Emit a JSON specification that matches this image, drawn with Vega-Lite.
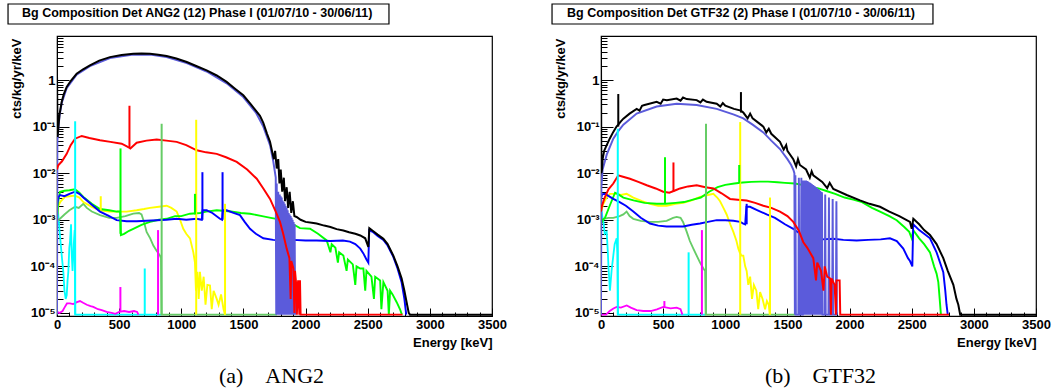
{
  "$schema": "https://vega.github.io/schema/vega-lite/v6.json",
  "background": "white",
  "padding": {"left": 6, "top": 2, "right": 1, "bottom": 2},
  "autosize": {"type": "pad"},
  "config": {
    "view": {"stroke": "black", "strokeWidth": 1.2},
    "axis": {"labelFont": "Liberation Sans", "labelFontWeight": "bold", "labelFontSize": 13, "labelColor": "black", "titleFont": "Liberation Sans", "titleFontWeight": "bold", "titleFontSize": 13, "titleColor": "black", "domainColor": "black", "tickColor": "black", "grid": false}
  },
  "datasets": {
    "curves": [
      {"p":"a","s":"1cy","e":0,"v":0.003},{"p":"a","s":"1cy","e":5,"v":0.002},{"p":"a","s":"1cy","e":10,"v":0.0013},{"p":"a","s":"1cy","e":20,"v":0.0006},{"p":"a","s":"1cy","e":30,"v":0.0003},{"p":"a","s":"1cy","e":40,"v":0.00015},{"p":"a","s":"1cy","e":51,"v":0.000076},{"p":"a","s":"1cy","e":60,"v":0.00003},{"p":"a","s":"1cy","e":70,"v":0.00002},{"p":"a","s":"1cy","e":78,"v":0.000024},{"p":"a","s":"1cy","e":85,"v":0.00005},{"p":"a","s":"1cy","e":91,"v":0.000076},{"p":"a","s":"1cy","e":99,"v":0.00025},{"p":"a","s":"1cy","e":105,"v":0.00035},{"p":"a","s":"1cy","e":113,"v":0.0008},{"p":"a","s":"1cy","e":118,"v":0.0002},{"p":"a","s":"1cy","e":125,"v":0.00008},{"p":"a","s":"1cy","e":135,"v":0.0003},{"p":"a","s":"1cy","e":142,"v":0.0006},{"p":"a","s":"1cy","e":147,"v":0.0000092},{"p":"a","s":"1cy","e":840,"v":0.0000092},
      {"p":"a","s":"2ma","e":0,"v":0.0000105},{"p":"a","s":"2ma","e":20,"v":0.00001},{"p":"a","s":"2ma","e":45,"v":0.000011},{"p":"a","s":"2ma","e":60,"v":0.000013},{"p":"a","s":"2ma","e":80,"v":0.000016},{"p":"a","s":"2ma","e":105,"v":0.000016},{"p":"a","s":"2ma","e":130,"v":0.0000155},{"p":"a","s":"2ma","e":160,"v":0.000017},{"p":"a","s":"2ma","e":185,"v":0.000018},{"p":"a","s":"2ma","e":210,"v":0.0000165},{"p":"a","s":"2ma","e":240,"v":0.000015},{"p":"a","s":"2ma","e":270,"v":0.000014},{"p":"a","s":"2ma","e":292,"v":0.0000135},{"p":"a","s":"2ma","e":330,"v":0.000012},{"p":"a","s":"2ma","e":360,"v":0.0000115},{"p":"a","s":"2ma","e":400,"v":0.0000105},{"p":"a","s":"2ma","e":440,"v":0.00001},{"p":"a","s":"2ma","e":470,"v":0.0000096},{"p":"a","s":"2ma","e":500,"v":0.0000105},{"p":"a","s":"2ma","e":540,"v":0.000011},{"p":"a","s":"2ma","e":580,"v":0.0000105},{"p":"a","s":"2ma","e":620,"v":0.000011},{"p":"a","s":"2ma","e":645,"v":0.0000105},{"p":"a","s":"2ma","e":655,"v":0.0000092},
      {"p":"a","s":"3lg","e":0,"v":0.0009},{"p":"a","s":"3lg","e":10,"v":0.001},{"p":"a","s":"3lg","e":24,"v":0.00105},{"p":"a","s":"3lg","e":60,"v":0.0013},{"p":"a","s":"3lg","e":100,"v":0.0016},{"p":"a","s":"3lg","e":145,"v":0.0019},{"p":"a","s":"3lg","e":175,"v":0.0018},{"p":"a","s":"3lg","e":212,"v":0.0022},{"p":"a","s":"3lg","e":240,"v":0.0018},{"p":"a","s":"3lg","e":280,"v":0.0015},{"p":"a","s":"3lg","e":346,"v":0.00126},{"p":"a","s":"3lg","e":420,"v":0.0011},{"p":"a","s":"3lg","e":480,"v":0.0011},{"p":"a","s":"3lg","e":550,"v":0.0012},{"p":"a","s":"3lg","e":614,"v":0.00136},{"p":"a","s":"3lg","e":660,"v":0.0014},{"p":"a","s":"3lg","e":680,"v":0.0013},{"p":"a","s":"3lg","e":700,"v":0.0009},{"p":"a","s":"3lg","e":721,"v":0.00055},{"p":"a","s":"3lg","e":750,"v":0.0004},{"p":"a","s":"3lg","e":775,"v":0.00028},{"p":"a","s":"3lg","e":800,"v":0.00022},{"p":"a","s":"3lg","e":829,"v":0.00017},{"p":"a","s":"3lg","e":837,"v":0.00015},{"p":"a","s":"3lg","e":841,"v":0.0000092},{"p":"a","s":"3lg","e":1770,"v":0.0000092},
      {"p":"a","s":"4ye","e":0,"v":0.0012},{"p":"a","s":"4ye","e":10,"v":0.002},{"p":"a","s":"4ye","e":30,"v":0.0025},{"p":"a","s":"4ye","e":64,"v":0.0031},{"p":"a","s":"4ye","e":100,"v":0.0032},{"p":"a","s":"4ye","e":145,"v":0.0033},{"p":"a","s":"4ye","e":180,"v":0.003},{"p":"a","s":"4ye","e":212,"v":0.0024},{"p":"a","s":"4ye","e":280,"v":0.0019},{"p":"a","s":"4ye","e":346,"v":0.0016},{"p":"a","s":"4ye","e":420,"v":0.0015},{"p":"a","s":"4ye","e":480,"v":0.0015},{"p":"a","s":"4ye","e":560,"v":0.0015},{"p":"a","s":"4ye","e":641,"v":0.0016},{"p":"a","s":"4ye","e":700,"v":0.0017},{"p":"a","s":"4ye","e":748,"v":0.0018},{"p":"a","s":"4ye","e":820,"v":0.0019},{"p":"a","s":"4ye","e":882,"v":0.002},{"p":"a","s":"4ye","e":920,"v":0.0018},{"p":"a","s":"4ye","e":963,"v":0.0015},{"p":"a","s":"4ye","e":990,"v":0.001},{"p":"a","s":"4ye","e":1016,"v":0.00064},{"p":"a","s":"4ye","e":1040,"v":0.0005},{"p":"a","s":"4ye","e":1070,"v":0.0004},{"p":"a","s":"4ye","e":1097,"v":0.0002},{"p":"a","s":"4ye","e":1110,"v":0.00012},{"p":"a","s":"4ye","e":1118,"v":0.00003},{"p":"a","s":"4ye","e":1130,"v":0.000076},{"p":"a","s":"4ye","e":1140,"v":0.00002},{"p":"a","s":"4ye","e":1150,"v":0.000076},{"p":"a","s":"4ye","e":1165,"v":0.00003},{"p":"a","s":"4ye","e":1180,"v":0.00006},{"p":"a","s":"4ye","e":1195,"v":0.000015},{"p":"a","s":"4ye","e":1210,"v":0.00004},{"p":"a","s":"4ye","e":1231,"v":0.000039},{"p":"a","s":"4ye","e":1245,"v":0.000012},{"p":"a","s":"4ye","e":1260,"v":0.00003},{"p":"a","s":"4ye","e":1285,"v":0.00002},{"p":"a","s":"4ye","e":1300,"v":0.000015},{"p":"a","s":"4ye","e":1320,"v":0.000025},{"p":"a","s":"4ye","e":1340,"v":0.000012},{"p":"a","s":"4ye","e":1352,"v":0.0000092},
      {"p":"a","s":"5gr","e":0,"v":0.001},{"p":"a","s":"5gr","e":10,"v":0.0025},{"p":"a","s":"5gr","e":24,"v":0.004},{"p":"a","s":"5gr","e":60,"v":0.0042},{"p":"a","s":"5gr","e":100,"v":0.0043},{"p":"a","s":"5gr","e":145,"v":0.0045},{"p":"a","s":"5gr","e":180,"v":0.0038},{"p":"a","s":"5gr","e":212,"v":0.0031},{"p":"a","s":"5gr","e":280,"v":0.0022},{"p":"a","s":"5gr","e":346,"v":0.0017},{"p":"a","s":"5gr","e":420,"v":0.0016},{"p":"a","s":"5gr","e":480,"v":0.0015},{"p":"a","s":"5gr","e":508,"v":0.0015},{"p":"a","s":"5gr","e":514,"v":0.00047},{"p":"a","s":"5gr","e":540,"v":0.0005},{"p":"a","s":"5gr","e":580,"v":0.00058},{"p":"a","s":"5gr","e":614,"v":0.00064},{"p":"a","s":"5gr","e":680,"v":0.00078},{"p":"a","s":"5gr","e":748,"v":0.0009},{"p":"a","s":"5gr","e":820,"v":0.001},{"p":"a","s":"5gr","e":882,"v":0.00105},{"p":"a","s":"5gr","e":950,"v":0.0012},{"p":"a","s":"5gr","e":1000,"v":0.0012},{"p":"a","s":"5gr","e":1070,"v":0.00135},{"p":"a","s":"5gr","e":1150,"v":0.0014},{"p":"a","s":"5gr","e":1200,"v":0.0015},{"p":"a","s":"5gr","e":1285,"v":0.0016},{"p":"a","s":"5gr","e":1400,"v":0.0015},{"p":"a","s":"5gr","e":1480,"v":0.0014},{"p":"a","s":"5gr","e":1553,"v":0.00135},{"p":"a","s":"5gr","e":1650,"v":0.0012},{"p":"a","s":"5gr","e":1720,"v":0.0011},{"p":"a","s":"5gr","e":1821,"v":0.00098},{"p":"a","s":"5gr","e":1900,"v":0.0008},{"p":"a","s":"5gr","e":1955,"v":0.00066},{"p":"a","s":"5gr","e":2036,"v":0.00064},{"p":"a","s":"5gr","e":2100,"v":0.0005},{"p":"a","s":"5gr","e":2170,"v":0.00036},{"p":"a","s":"5gr","e":2200,"v":0.0002},{"p":"a","s":"5gr","e":2210,"v":0.0003},{"p":"a","s":"5gr","e":2240,"v":0.00025},{"p":"a","s":"5gr","e":2260,"v":0.00012},{"p":"a","s":"5gr","e":2270,"v":0.0002},{"p":"a","s":"5gr","e":2304,"v":0.00017},{"p":"a","s":"5gr","e":2330,"v":0.00008},{"p":"a","s":"5gr","e":2340,"v":0.00014},{"p":"a","s":"5gr","e":2380,"v":0.00011},{"p":"a","s":"5gr","e":2400,"v":0.00004},{"p":"a","s":"5gr","e":2410,"v":0.0001},{"p":"a","s":"5gr","e":2440,"v":0.00009},{"p":"a","s":"5gr","e":2465,"v":0.00009},{"p":"a","s":"5gr","e":2480,"v":0.00003},{"p":"a","s":"5gr","e":2490,"v":0.00008},{"p":"a","s":"5gr","e":2530,"v":0.00006},{"p":"a","s":"5gr","e":2550,"v":0.00002},{"p":"a","s":"5gr","e":2560,"v":0.00006},{"p":"a","s":"5gr","e":2600,"v":0.00005},{"p":"a","s":"5gr","e":2610,"v":0.000012},{"p":"a","s":"5gr","e":2626,"v":0.000046},{"p":"a","s":"5gr","e":2660,"v":0.00003},{"p":"a","s":"5gr","e":2670,"v":0.0000092},{"p":"a","s":"5gr","e":2680,"v":0.00003},{"p":"a","s":"5gr","e":2700,"v":0.000025},{"p":"a","s":"5gr","e":2733,"v":0.000017},{"p":"a","s":"5gr","e":2760,"v":0.000012},{"p":"a","s":"5gr","e":2775,"v":0.0000092},
      {"p":"a","s":"6bl","e":0,"v":0.002},{"p":"a","s":"6bl","e":10,"v":0.003},{"p":"a","s":"6bl","e":24,"v":0.0034},{"p":"a","s":"6bl","e":60,"v":0.0032},{"p":"a","s":"6bl","e":100,"v":0.0036},{"p":"a","s":"6bl","e":145,"v":0.004},{"p":"a","s":"6bl","e":180,"v":0.0036},{"p":"a","s":"6bl","e":212,"v":0.003},{"p":"a","s":"6bl","e":280,"v":0.0021},{"p":"a","s":"6bl","e":346,"v":0.0015},{"p":"a","s":"6bl","e":420,"v":0.0012},{"p":"a","s":"6bl","e":480,"v":0.00098},{"p":"a","s":"6bl","e":560,"v":0.00093},{"p":"a","s":"6bl","e":641,"v":0.00093},{"p":"a","s":"6bl","e":720,"v":0.00095},{"p":"a","s":"6bl","e":802,"v":0.00098},{"p":"a","s":"6bl","e":880,"v":0.001},{"p":"a","s":"6bl","e":963,"v":0.00105},{"p":"a","s":"6bl","e":1040,"v":0.001},{"p":"a","s":"6bl","e":1124,"v":0.00105},{"p":"a","s":"6bl","e":1165,"v":0.001},{"p":"a","s":"6bl","e":1172,"v":0.0016},{"p":"a","s":"6bl","e":1204,"v":0.0016},{"p":"a","s":"6bl","e":1250,"v":0.0014},{"p":"a","s":"6bl","e":1311,"v":0.00105},{"p":"a","s":"6bl","e":1328,"v":0.001},{"p":"a","s":"6bl","e":1335,"v":0.0016},{"p":"a","s":"6bl","e":1365,"v":0.0016},{"p":"a","s":"6bl","e":1420,"v":0.0014},{"p":"a","s":"6bl","e":1472,"v":0.00126},{"p":"a","s":"6bl","e":1510,"v":0.0009},{"p":"a","s":"6bl","e":1553,"v":0.00064},{"p":"a","s":"6bl","e":1600,"v":0.0005},{"p":"a","s":"6bl","e":1660,"v":0.0004},{"p":"a","s":"6bl","e":1740,"v":0.00037},{"p":"a","s":"6bl","e":1821,"v":0.00036},{"p":"a","s":"6bl","e":1900,"v":0.00037},{"p":"a","s":"6bl","e":2000,"v":0.00036},{"p":"a","s":"6bl","e":2089,"v":0.00036},{"p":"a","s":"6bl","e":2200,"v":0.00035},{"p":"a","s":"6bl","e":2300,"v":0.00036},{"p":"a","s":"6bl","e":2357,"v":0.00034},{"p":"a","s":"6bl","e":2400,"v":0.0003},{"p":"a","s":"6bl","e":2440,"v":0.00024},{"p":"a","s":"6bl","e":2465,"v":0.00019},{"p":"a","s":"6bl","e":2490,"v":0.00014},{"p":"a","s":"6bl","e":2505,"v":0.00012},{"p":"a","s":"6bl","e":2512,"v":0.0006},{"p":"a","s":"6bl","e":2540,"v":0.00055},{"p":"a","s":"6bl","e":2580,"v":0.00045},{"p":"a","s":"6bl","e":2626,"v":0.00037},{"p":"a","s":"6bl","e":2660,"v":0.00028},{"p":"a","s":"6bl","e":2706,"v":0.00016},{"p":"a","s":"6bl","e":2740,"v":0.00009},{"p":"a","s":"6bl","e":2773,"v":0.000045},{"p":"a","s":"6bl","e":2795,"v":0.00002},{"p":"a","s":"6bl","e":2810,"v":0.0000092},
      {"p":"a","s":"7sl","e":0,"v":0.0000092},{"p":"a","s":"7sl","e":3,"v":0.05},{"p":"a","s":"7sl","e":10,"v":0.085},{"p":"a","s":"7sl","e":20,"v":0.17},{"p":"a","s":"7sl","e":38,"v":0.32},{"p":"a","s":"7sl","e":78,"v":0.67},{"p":"a","s":"7sl","e":158,"v":1.3},{"p":"a","s":"7sl","e":265,"v":1.98},{"p":"a","s":"7sl","e":426,"v":2.95},{"p":"a","s":"7sl","e":614,"v":3.5},{"p":"a","s":"7sl","e":748,"v":3.5},{"p":"a","s":"7sl","e":882,"v":3.1},{"p":"a","s":"7sl","e":1044,"v":2.3},{"p":"a","s":"7sl","e":1204,"v":1.52},{"p":"a","s":"7sl","e":1365,"v":0.85},{"p":"a","s":"7sl","e":1499,"v":0.43},{"p":"a","s":"7sl","e":1600,"v":0.2},{"p":"a","s":"7sl","e":1660,"v":0.1},{"p":"a","s":"7sl","e":1714,"v":0.04},{"p":"a","s":"7sl","e":1740,"v":0.018},{"p":"a","s":"7sl","e":1760,"v":0.008},{"p":"a","s":"7sl","e":1764,"v":0.0000092},{"p":"a","s":"7sl","e":1768,"v":0.006},{"p":"a","s":"7sl","e":1772,"v":0.0000092},{"p":"a","s":"7sl","e":1780,"v":0.004},{"p":"a","s":"7sl","e":1784,"v":0.0000092},{"p":"a","s":"7sl","e":1792,"v":0.0035},{"p":"a","s":"7sl","e":1796,"v":0.0000092},{"p":"a","s":"7sl","e":1800,"v":0.0032},{"p":"a","s":"7sl","e":1804,"v":0.0000092},{"p":"a","s":"7sl","e":1808,"v":0.003},{"p":"a","s":"7sl","e":1812,"v":0.0000092},{"p":"a","s":"7sl","e":1816,"v":0.0026},{"p":"a","s":"7sl","e":1820,"v":0.0000092},{"p":"a","s":"7sl","e":1824,"v":0.0024},{"p":"a","s":"7sl","e":1828,"v":0.0000092},{"p":"a","s":"7sl","e":1832,"v":0.0022},{"p":"a","s":"7sl","e":1836,"v":0.0000092},{"p":"a","s":"7sl","e":1840,"v":0.002},{"p":"a","s":"7sl","e":1844,"v":0.0000092},{"p":"a","s":"7sl","e":1848,"v":0.0018},{"p":"a","s":"7sl","e":1852,"v":0.0000092},{"p":"a","s":"7sl","e":1856,"v":0.0016},{"p":"a","s":"7sl","e":1860,"v":0.0000092},{"p":"a","s":"7sl","e":1864,"v":0.0014},{"p":"a","s":"7sl","e":1868,"v":0.0000092},{"p":"a","s":"7sl","e":1872,"v":0.0013},{"p":"a","s":"7sl","e":1876,"v":0.0000092},{"p":"a","s":"7sl","e":1880,"v":0.0012},{"p":"a","s":"7sl","e":1884,"v":0.0000092},{"p":"a","s":"7sl","e":1888,"v":0.0011},{"p":"a","s":"7sl","e":1892,"v":0.0000092},{"p":"a","s":"7sl","e":1896,"v":0.001},{"p":"a","s":"7sl","e":1900,"v":0.0000092},{"p":"a","s":"7sl","e":1904,"v":0.0009},{"p":"a","s":"7sl","e":1908,"v":0.0000092},{"p":"a","s":"7sl","e":1912,"v":0.0008},{"p":"a","s":"7sl","e":1916,"v":0.0000092},
      {"p":"a","s":"8rd","e":0,"v":0.012},{"p":"a","s":"8rd","e":10,"v":0.0148},{"p":"a","s":"8rd","e":40,"v":0.018},{"p":"a","s":"8rd","e":78,"v":0.026},{"p":"a","s":"8rd","e":110,"v":0.04},{"p":"a","s":"8rd","e":145,"v":0.055},{"p":"a","s":"8rd","e":199,"v":0.063},{"p":"a","s":"8rd","e":260,"v":0.057},{"p":"a","s":"8rd","e":346,"v":0.051},{"p":"a","s":"8rd","e":430,"v":0.047},{"p":"a","s":"8rd","e":520,"v":0.043},{"p":"a","s":"8rd","e":566,"v":0.037},{"p":"a","s":"8rd","e":575,"v":0.036},{"p":"a","s":"8rd","e":590,"v":0.034},{"p":"a","s":"8rd","e":641,"v":0.045},{"p":"a","s":"8rd","e":720,"v":0.05},{"p":"a","s":"8rd","e":802,"v":0.053},{"p":"a","s":"8rd","e":880,"v":0.05},{"p":"a","s":"8rd","e":963,"v":0.047},{"p":"a","s":"8rd","e":1040,"v":0.04},{"p":"a","s":"8rd","e":1124,"v":0.031},{"p":"a","s":"8rd","e":1200,"v":0.028},{"p":"a","s":"8rd","e":1285,"v":0.026},{"p":"a","s":"8rd","e":1360,"v":0.022},{"p":"a","s":"8rd","e":1446,"v":0.0175},{"p":"a","s":"8rd","e":1530,"v":0.012},{"p":"a","s":"8rd","e":1607,"v":0.0076},{"p":"a","s":"8rd","e":1660,"v":0.0047},{"p":"a","s":"8rd","e":1714,"v":0.0028},{"p":"a","s":"8rd","e":1760,"v":0.0015},{"p":"a","s":"8rd","e":1794,"v":0.0009},{"p":"a","s":"8rd","e":1820,"v":0.0005},{"p":"a","s":"8rd","e":1848,"v":0.00024},{"p":"a","s":"8rd","e":1870,"v":0.00015},{"p":"a","s":"8rd","e":1880,"v":0.00002},{"p":"a","s":"8rd","e":1885,"v":0.00013},{"p":"a","s":"8rd","e":1902,"v":0.00009},{"p":"a","s":"8rd","e":1910,"v":0.00001},{"p":"a","s":"8rd","e":1915,"v":0.00008},{"p":"a","s":"8rd","e":1925,"v":0.00004},{"p":"a","s":"8rd","e":1930,"v":0.0000092},{"p":"a","s":"8rd","e":1940,"v":0.00005},{"p":"a","s":"8rd","e":1950,"v":0.0000092},{"p":"a","s":"8rd","e":1955,"v":0.00005},{"p":"a","s":"8rd","e":1960,"v":0.0000092},{"p":"a","s":"8rd","e":2780,"v":0.0000092},
      {"p":"a","s":"9bk","e":0,"v":1.4},{"p":"a","s":"9bk","e":5,"v":0.06},{"p":"a","s":"9bk","e":10,"v":0.09},{"p":"a","s":"9bk","e":20,"v":0.18},{"p":"a","s":"9bk","e":38,"v":0.34},{"p":"a","s":"9bk","e":55,"v":0.5},{"p":"a","s":"9bk","e":78,"v":0.71},{"p":"a","s":"9bk","e":110,"v":0.95},{"p":"a","s":"9bk","e":158,"v":1.36},{"p":"a","s":"9bk","e":210,"v":1.7},{"p":"a","s":"9bk","e":265,"v":2.07},{"p":"a","s":"9bk","e":340,"v":2.6},{"p":"a","s":"9bk","e":426,"v":3.1},{"p":"a","s":"9bk","e":520,"v":3.45},{"p":"a","s":"9bk","e":614,"v":3.67},{"p":"a","s":"9bk","e":680,"v":3.72},{"p":"a","s":"9bk","e":748,"v":3.67},{"p":"a","s":"9bk","e":815,"v":3.5},{"p":"a","s":"9bk","e":882,"v":3.27},{"p":"a","s":"9bk","e":960,"v":2.9},{"p":"a","s":"9bk","e":1044,"v":2.43},{"p":"a","s":"9bk","e":1120,"v":2.0},{"p":"a","s":"9bk","e":1204,"v":1.61},{"p":"a","s":"9bk","e":1285,"v":1.25},{"p":"a","s":"9bk","e":1365,"v":0.91},{"p":"a","s":"9bk","e":1430,"v":0.66},{"p":"a","s":"9bk","e":1499,"v":0.47},{"p":"a","s":"9bk","e":1560,"v":0.3},{"p":"a","s":"9bk","e":1600,"v":0.22},{"p":"a","s":"9bk","e":1633,"v":0.17},{"p":"a","s":"9bk","e":1660,"v":0.12},{"p":"a","s":"9bk","e":1690,"v":0.07},{"p":"a","s":"9bk","e":1714,"v":0.047},{"p":"a","s":"9bk","e":1730,"v":0.03},{"p":"a","s":"9bk","e":1745,"v":0.02},{"p":"a","s":"9bk","e":1755,"v":0.03},{"p":"a","s":"9bk","e":1768,"v":0.0126},{"p":"a","s":"9bk","e":1780,"v":0.02},{"p":"a","s":"9bk","e":1790,"v":0.006},{"p":"a","s":"9bk","e":1800,"v":0.012},{"p":"a","s":"9bk","e":1812,"v":0.004},{"p":"a","s":"9bk","e":1825,"v":0.008},{"p":"a","s":"9bk","e":1835,"v":0.0025},{"p":"a","s":"9bk","e":1848,"v":0.005},{"p":"a","s":"9bk","e":1860,"v":0.0018},{"p":"a","s":"9bk","e":1872,"v":0.004},{"p":"a","s":"9bk","e":1885,"v":0.0014},{"p":"a","s":"9bk","e":1898,"v":0.0025},{"p":"a","s":"9bk","e":1910,"v":0.0012},{"p":"a","s":"9bk","e":1928,"v":0.00115},{"p":"a","s":"9bk","e":1960,"v":0.001},{"p":"a","s":"9bk","e":2000,"v":0.0009},{"p":"a","s":"9bk","e":2050,"v":0.00086},{"p":"a","s":"9bk","e":2089,"v":0.00083},{"p":"a","s":"9bk","e":2150,"v":0.00075},{"p":"a","s":"9bk","e":2200,"v":0.0007},{"p":"a","s":"9bk","e":2250,"v":0.00063},{"p":"a","s":"9bk","e":2304,"v":0.00059},{"p":"a","s":"9bk","e":2350,"v":0.00054},{"p":"a","s":"9bk","e":2400,"v":0.0005},{"p":"a","s":"9bk","e":2440,"v":0.00046},{"p":"a","s":"9bk","e":2480,"v":0.0004},{"p":"a","s":"9bk","e":2505,"v":0.00026},{"p":"a","s":"9bk","e":2513,"v":0.00066},{"p":"a","s":"9bk","e":2540,"v":0.00058},{"p":"a","s":"9bk","e":2580,"v":0.00048},{"p":"a","s":"9bk","e":2626,"v":0.00039},{"p":"a","s":"9bk","e":2660,"v":0.0003},{"p":"a","s":"9bk","e":2706,"v":0.00017},{"p":"a","s":"9bk","e":2740,"v":0.0001},{"p":"a","s":"9bk","e":2773,"v":0.000055},{"p":"a","s":"9bk","e":2795,"v":0.00003},{"p":"a","s":"9bk","e":2813,"v":0.000017},{"p":"a","s":"9bk","e":2830,"v":0.00001},{"p":"a","s":"9bk","e":2840,"v":0.0000092},{"p":"a","s":"9bk","e":3500,"v":0.0000092},

      {"p":"b","s":"1cy","e":0,"v":0.002},{"p":"b","s":"1cy","e":10,"v":0.0012},{"p":"b","s":"1cy","e":20,"v":0.0009},{"p":"b","s":"1cy","e":30,"v":0.0005},{"p":"b","s":"1cy","e":46,"v":0.00055},{"p":"b","s":"1cy","e":55,"v":0.0002},{"p":"b","s":"1cy","e":60,"v":0.0001},{"p":"b","s":"1cy","e":72,"v":0.00003},{"p":"b","s":"1cy","e":85,"v":0.00008},{"p":"b","s":"1cy","e":99,"v":0.00017},{"p":"b","s":"1cy","e":110,"v":0.0003},{"p":"b","s":"1cy","e":126,"v":0.0004},{"p":"b","s":"1cy","e":132,"v":0.0002},{"p":"b","s":"1cy","e":137,"v":0.0000092},{"p":"b","s":"1cy","e":840,"v":0.0000092},
      {"p":"b","s":"2ma","e":0,"v":0.0000092},{"p":"b","s":"2ma","e":40,"v":0.0000092},{"p":"b","s":"2ma","e":70,"v":0.000011},{"p":"b","s":"2ma","e":100,"v":0.0000125},{"p":"b","s":"2ma","e":126,"v":0.0000135},{"p":"b","s":"2ma","e":160,"v":0.000013},{"p":"b","s":"2ma","e":207,"v":0.0000145},{"p":"b","s":"2ma","e":240,"v":0.000013},{"p":"b","s":"2ma","e":287,"v":0.0000115},{"p":"b","s":"2ma","e":340,"v":0.000011},{"p":"b","s":"2ma","e":400,"v":0.000011},{"p":"b","s":"2ma","e":450,"v":0.000012},{"p":"b","s":"2ma","e":501,"v":0.0000135},{"p":"b","s":"2ma","e":560,"v":0.0000125},{"p":"b","s":"2ma","e":609,"v":0.000013},{"p":"b","s":"2ma","e":640,"v":0.000012},{"p":"b","s":"2ma","e":655,"v":0.0000092},
      {"p":"b","s":"3lg","e":0,"v":0.001},{"p":"b","s":"3lg","e":19,"v":0.00105},{"p":"b","s":"3lg","e":60,"v":0.0011},{"p":"b","s":"3lg","e":99,"v":0.0011},{"p":"b","s":"3lg","e":150,"v":0.0012},{"p":"b","s":"3lg","e":180,"v":0.0013},{"p":"b","s":"3lg","e":206,"v":0.0015},{"p":"b","s":"3lg","e":230,"v":0.0012},{"p":"b","s":"3lg","e":260,"v":0.00105},{"p":"b","s":"3lg","e":320,"v":0.00095},{"p":"b","s":"3lg","e":394,"v":0.0009},{"p":"b","s":"3lg","e":460,"v":0.0009},{"p":"b","s":"3lg","e":528,"v":0.00095},{"p":"b","s":"3lg","e":580,"v":0.0011},{"p":"b","s":"3lg","e":609,"v":0.00115},{"p":"b","s":"3lg","e":640,"v":0.0011},{"p":"b","s":"3lg","e":660,"v":0.0009},{"p":"b","s":"3lg","e":690,"v":0.00055},{"p":"b","s":"3lg","e":715,"v":0.00035},{"p":"b","s":"3lg","e":743,"v":0.00024},{"p":"b","s":"3lg","e":770,"v":0.00017},{"p":"b","s":"3lg","e":797,"v":0.00012},{"p":"b","s":"3lg","e":824,"v":0.00009},{"p":"b","s":"3lg","e":838,"v":0.00008},{"p":"b","s":"3lg","e":842,"v":0.0000092},{"p":"b","s":"3lg","e":1560,"v":0.0000092},
      {"p":"b","s":"4ye","e":0,"v":0.0015},{"p":"b","s":"4ye","e":19,"v":0.0022},{"p":"b","s":"4ye","e":45,"v":0.003},{"p":"b","s":"4ye","e":72,"v":0.0036},{"p":"b","s":"4ye","e":126,"v":0.0036},{"p":"b","s":"4ye","e":160,"v":0.0034},{"p":"b","s":"4ye","e":206,"v":0.0036},{"p":"b","s":"4ye","e":260,"v":0.003},{"p":"b","s":"4ye","e":330,"v":0.0025},{"p":"b","s":"4ye","e":394,"v":0.0022},{"p":"b","s":"4ye","e":460,"v":0.002},{"p":"b","s":"4ye","e":528,"v":0.002},{"p":"b","s":"4ye","e":600,"v":0.0022},{"p":"b","s":"4ye","e":662,"v":0.0023},{"p":"b","s":"4ye","e":730,"v":0.0026},{"p":"b","s":"4ye","e":797,"v":0.0031},{"p":"b","s":"4ye","e":860,"v":0.0034},{"p":"b","s":"4ye","e":904,"v":0.0036},{"p":"b","s":"4ye","e":935,"v":0.003},{"p":"b","s":"4ye","e":958,"v":0.0025},{"p":"b","s":"4ye","e":985,"v":0.0018},{"p":"b","s":"4ye","e":1011,"v":0.0013},{"p":"b","s":"4ye","e":1040,"v":0.0008},{"p":"b","s":"4ye","e":1065,"v":0.00055},{"p":"b","s":"4ye","e":1090,"v":0.00035},{"p":"b","s":"4ye","e":1105,"v":0.00024},{"p":"b","s":"4ye","e":1116,"v":0.0002},{"p":"b","s":"4ye","e":1130,"v":0.00017},{"p":"b","s":"4ye","e":1145,"v":0.00017},{"p":"b","s":"4ye","e":1160,"v":0.0001},{"p":"b","s":"4ye","e":1172,"v":0.00008},{"p":"b","s":"4ye","e":1185,"v":0.00004},{"p":"b","s":"4ye","e":1200,"v":0.00006},{"p":"b","s":"4ye","e":1215,"v":0.00002},{"p":"b","s":"4ye","e":1230,"v":0.00004},{"p":"b","s":"4ye","e":1250,"v":0.00003},{"p":"b","s":"4ye","e":1265,"v":0.000012},{"p":"b","s":"4ye","e":1280,"v":0.000028},{"p":"b","s":"4ye","e":1300,"v":0.00002},{"p":"b","s":"4ye","e":1320,"v":0.000012},{"p":"b","s":"4ye","e":1335,"v":0.000018},{"p":"b","s":"4ye","e":1350,"v":0.000015},{"p":"b","s":"4ye","e":1358,"v":0.0000092},
      {"p":"b","s":"5gr","e":0,"v":0.0008},{"p":"b","s":"5gr","e":15,"v":0.001},{"p":"b","s":"5gr","e":32,"v":0.0011},{"p":"b","s":"5gr","e":70,"v":0.002},{"p":"b","s":"5gr","e":113,"v":0.0038},{"p":"b","s":"5gr","e":140,"v":0.0035},{"p":"b","s":"5gr","e":180,"v":0.003},{"p":"b","s":"5gr","e":262,"v":0.0026},{"p":"b","s":"5gr","e":350,"v":0.0023},{"p":"b","s":"5gr","e":450,"v":0.0022},{"p":"b","s":"5gr","e":520,"v":0.0022},{"p":"b","s":"5gr","e":600,"v":0.0023},{"p":"b","s":"5gr","e":668,"v":0.0024},{"p":"b","s":"5gr","e":740,"v":0.0027},{"p":"b","s":"5gr","e":803,"v":0.003},{"p":"b","s":"5gr","e":870,"v":0.004},{"p":"b","s":"5gr","e":938,"v":0.005},{"p":"b","s":"5gr","e":1000,"v":0.0056},{"p":"b","s":"5gr","e":1073,"v":0.006},{"p":"b","s":"5gr","e":1140,"v":0.0063},{"p":"b","s":"5gr","e":1210,"v":0.0065},{"p":"b","s":"5gr","e":1280,"v":0.0066},{"p":"b","s":"5gr","e":1344,"v":0.0066},{"p":"b","s":"5gr","e":1420,"v":0.0064},{"p":"b","s":"5gr","e":1480,"v":0.0062},{"p":"b","s":"5gr","e":1560,"v":0.006},{"p":"b","s":"5gr","e":1650,"v":0.0054},{"p":"b","s":"5gr","e":1749,"v":0.0047},{"p":"b","s":"5gr","e":1820,"v":0.0041},{"p":"b","s":"5gr","e":1884,"v":0.0036},{"p":"b","s":"5gr","e":1960,"v":0.003},{"p":"b","s":"5gr","e":2030,"v":0.0027},{"p":"b","s":"5gr","e":2100,"v":0.0024},{"p":"b","s":"5gr","e":2180,"v":0.0018},{"p":"b","s":"5gr","e":2245,"v":0.0015},{"p":"b","s":"5gr","e":2320,"v":0.0012},{"p":"b","s":"5gr","e":2379,"v":0.00098},{"p":"b","s":"5gr","e":2440,"v":0.0007},{"p":"b","s":"5gr","e":2480,"v":0.00055},{"p":"b","s":"5gr","e":2500,"v":0.0004},{"p":"b","s":"5gr","e":2512,"v":0.0006},{"p":"b","s":"5gr","e":2560,"v":0.0004},{"p":"b","s":"5gr","e":2600,"v":0.0003},{"p":"b","s":"5gr","e":2647,"v":0.0002},{"p":"b","s":"5gr","e":2680,"v":0.0001},{"p":"b","s":"5gr","e":2700,"v":0.00007},{"p":"b","s":"5gr","e":2714,"v":0.000046},{"p":"b","s":"5gr","e":2725,"v":0.00002},{"p":"b","s":"5gr","e":2735,"v":0.0000092},
      {"p":"b","s":"6bl","e":0,"v":0.003},{"p":"b","s":"6bl","e":10,"v":0.0035},{"p":"b","s":"6bl","e":32,"v":0.0036},{"p":"b","s":"6bl","e":99,"v":0.0028},{"p":"b","s":"6bl","e":150,"v":0.0024},{"p":"b","s":"6bl","e":200,"v":0.002},{"p":"b","s":"6bl","e":260,"v":0.0015},{"p":"b","s":"6bl","e":320,"v":0.0011},{"p":"b","s":"6bl","e":394,"v":0.00083},{"p":"b","s":"6bl","e":460,"v":0.00075},{"p":"b","s":"6bl","e":528,"v":0.00072},{"p":"b","s":"6bl","e":600,"v":0.00072},{"p":"b","s":"6bl","e":662,"v":0.00072},{"p":"b","s":"6bl","e":730,"v":0.00078},{"p":"b","s":"6bl","e":797,"v":0.00083},{"p":"b","s":"6bl","e":860,"v":0.0009},{"p":"b","s":"6bl","e":931,"v":0.00098},{"p":"b","s":"6bl","e":1000,"v":0.00098},{"p":"b","s":"6bl","e":1065,"v":0.00095},{"p":"b","s":"6bl","e":1120,"v":0.0009},{"p":"b","s":"6bl","e":1145,"v":0.00083},{"p":"b","s":"6bl","e":1160,"v":0.0008},{"p":"b","s":"6bl","e":1170,"v":0.0019},{"p":"b","s":"6bl","e":1199,"v":0.0019},{"p":"b","s":"6bl","e":1260,"v":0.0016},{"p":"b","s":"6bl","e":1333,"v":0.0013},{"p":"b","s":"6bl","e":1400,"v":0.0011},{"p":"b","s":"6bl","e":1480,"v":0.0008},{"p":"b","s":"6bl","e":1547,"v":0.00064},{"p":"b","s":"6bl","e":1600,"v":0.0005},{"p":"b","s":"6bl","e":1650,"v":0.00042},{"p":"b","s":"6bl","e":1708,"v":0.00036},{"p":"b","s":"6bl","e":1780,"v":0.00038},{"p":"b","s":"6bl","e":1869,"v":0.00039},{"p":"b","s":"6bl","e":1950,"v":0.00037},{"p":"b","s":"6bl","e":2057,"v":0.00036},{"p":"b","s":"6bl","e":2150,"v":0.00037},{"p":"b","s":"6bl","e":2250,"v":0.00038},{"p":"b","s":"6bl","e":2325,"v":0.0004},{"p":"b","s":"6bl","e":2380,"v":0.00035},{"p":"b","s":"6bl","e":2432,"v":0.00024},{"p":"b","s":"6bl","e":2470,"v":0.00015},{"p":"b","s":"6bl","e":2486,"v":0.00013},{"p":"b","s":"6bl","e":2505,"v":0.0001},{"p":"b","s":"6bl","e":2512,"v":0.0008},{"p":"b","s":"6bl","e":2560,"v":0.0006},{"p":"b","s":"6bl","e":2600,"v":0.0005},{"p":"b","s":"6bl","e":2647,"v":0.0004},{"p":"b","s":"6bl","e":2700,"v":0.0002},{"p":"b","s":"6bl","e":2754,"v":0.000075},{"p":"b","s":"6bl","e":2770,"v":0.00003},{"p":"b","s":"6bl","e":2780,"v":0.000015},{"p":"b","s":"6bl","e":2790,"v":0.0000092},
      {"p":"b","s":"7sl","e":0,"v":0.0000092},{"p":"b","s":"7sl","e":3,"v":0.005},{"p":"b","s":"7sl","e":13,"v":0.012},{"p":"b","s":"7sl","e":46,"v":0.025},{"p":"b","s":"7sl","e":99,"v":0.055},{"p":"b","s":"7sl","e":139,"v":0.08},{"p":"b","s":"7sl","e":180,"v":0.11},{"p":"b","s":"7sl","e":287,"v":0.19},{"p":"b","s":"7sl","e":448,"v":0.27},{"p":"b","s":"7sl","e":609,"v":0.31},{"p":"b","s":"7sl","e":770,"v":0.29},{"p":"b","s":"7sl","e":931,"v":0.24},{"p":"b","s":"7sl","e":1070,"v":0.18},{"p":"b","s":"7sl","e":1145,"v":0.15},{"p":"b","s":"7sl","e":1220,"v":0.11},{"p":"b","s":"7sl","e":1306,"v":0.075},{"p":"b","s":"7sl","e":1370,"v":0.05},{"p":"b","s":"7sl","e":1440,"v":0.033},{"p":"b","s":"7sl","e":1500,"v":0.02},{"p":"b","s":"7sl","e":1530,"v":0.015},{"p":"b","s":"7sl","e":1547,"v":0.012},{"p":"b","s":"7sl","e":1556,"v":0.01},{"p":"b","s":"7sl","e":1560,"v":0.0000092},{"p":"b","s":"7sl","e":1564,"v":0.009},{"p":"b","s":"7sl","e":1568,"v":0.0000092},{"p":"b","s":"7sl","e":1588,"v":0.0000092},{"p":"b","s":"7sl","e":1592,"v":0.008},{"p":"b","s":"7sl","e":1596,"v":0.0000092},{"p":"b","s":"7sl","e":1608,"v":0.0000092},{"p":"b","s":"7sl","e":1612,"v":0.008},{"p":"b","s":"7sl","e":1616,"v":0.0000092},{"p":"b","s":"7sl","e":1624,"v":0.0000092},{"p":"b","s":"7sl","e":1628,"v":0.007},{"p":"b","s":"7sl","e":1632,"v":0.0000092},{"p":"b","s":"7sl","e":1640,"v":0.007},{"p":"b","s":"7sl","e":1644,"v":0.0000092},{"p":"b","s":"7sl","e":1650,"v":0.007},{"p":"b","s":"7sl","e":1654,"v":0.0000092},{"p":"b","s":"7sl","e":1658,"v":0.0068},{"p":"b","s":"7sl","e":1662,"v":0.0000092},{"p":"b","s":"7sl","e":1666,"v":0.0066},{"p":"b","s":"7sl","e":1670,"v":0.0000092},{"p":"b","s":"7sl","e":1674,"v":0.0064},{"p":"b","s":"7sl","e":1678,"v":0.0000092},{"p":"b","s":"7sl","e":1682,"v":0.0062},{"p":"b","s":"7sl","e":1686,"v":0.0000092},{"p":"b","s":"7sl","e":1690,"v":0.006},{"p":"b","s":"7sl","e":1694,"v":0.0000092},{"p":"b","s":"7sl","e":1698,"v":0.0058},{"p":"b","s":"7sl","e":1702,"v":0.0000092},{"p":"b","s":"7sl","e":1706,"v":0.0056},{"p":"b","s":"7sl","e":1710,"v":0.0000092},{"p":"b","s":"7sl","e":1714,"v":0.0054},{"p":"b","s":"7sl","e":1718,"v":0.0000092},{"p":"b","s":"7sl","e":1722,"v":0.0052},{"p":"b","s":"7sl","e":1726,"v":0.0000092},{"p":"b","s":"7sl","e":1730,"v":0.005},{"p":"b","s":"7sl","e":1734,"v":0.0000092},{"p":"b","s":"7sl","e":1738,"v":0.0048},{"p":"b","s":"7sl","e":1742,"v":0.0000092},{"p":"b","s":"7sl","e":1746,"v":0.0046},{"p":"b","s":"7sl","e":1750,"v":0.0000092},{"p":"b","s":"7sl","e":1754,"v":0.0044},{"p":"b","s":"7sl","e":1758,"v":0.0000092},{"p":"b","s":"7sl","e":1762,"v":0.0042},{"p":"b","s":"7sl","e":1766,"v":0.0000092},{"p":"b","s":"7sl","e":1770,"v":0.004},{"p":"b","s":"7sl","e":1774,"v":0.0000092},{"p":"b","s":"7sl","e":1778,"v":0.0039},{"p":"b","s":"7sl","e":1782,"v":0.0000092},{"p":"b","s":"7sl","e":1800,"v":0.0000092},{"p":"b","s":"7sl","e":1804,"v":0.0035},{"p":"b","s":"7sl","e":1808,"v":0.0000092},{"p":"b","s":"7sl","e":1830,"v":0.0000092},{"p":"b","s":"7sl","e":1834,"v":0.003},{"p":"b","s":"7sl","e":1838,"v":0.0000092},{"p":"b","s":"7sl","e":1860,"v":0.0000092},{"p":"b","s":"7sl","e":1864,"v":0.0028},{"p":"b","s":"7sl","e":1868,"v":0.0000092},{"p":"b","s":"7sl","e":1890,"v":0.0000092},{"p":"b","s":"7sl","e":1894,"v":0.0025},{"p":"b","s":"7sl","e":1898,"v":0.0000092},
      {"p":"b","s":"8rd","e":0,"v":0.0015},{"p":"b","s":"8rd","e":8,"v":0.002},{"p":"b","s":"8rd","e":30,"v":0.003},{"p":"b","s":"8rd","e":60,"v":0.0045},{"p":"b","s":"8rd","e":99,"v":0.006},{"p":"b","s":"8rd","e":139,"v":0.009},{"p":"b","s":"8rd","e":170,"v":0.0085},{"p":"b","s":"8rd","e":233,"v":0.0076},{"p":"b","s":"8rd","e":300,"v":0.0065},{"p":"b","s":"8rd","e":368,"v":0.0055},{"p":"b","s":"8rd","e":440,"v":0.0047},{"p":"b","s":"8rd","e":501,"v":0.004},{"p":"b","s":"8rd","e":550,"v":0.0038},{"p":"b","s":"8rd","e":600,"v":0.0043},{"p":"b","s":"8rd","e":636,"v":0.0047},{"p":"b","s":"8rd","e":700,"v":0.0052},{"p":"b","s":"8rd","e":770,"v":0.0055},{"p":"b","s":"8rd","e":840,"v":0.005},{"p":"b","s":"8rd","e":905,"v":0.0047},{"p":"b","s":"8rd","e":970,"v":0.0037},{"p":"b","s":"8rd","e":1038,"v":0.0028},{"p":"b","s":"8rd","e":1100,"v":0.0027},{"p":"b","s":"8rd","e":1172,"v":0.0026},{"p":"b","s":"8rd","e":1240,"v":0.0023},{"p":"b","s":"8rd","e":1306,"v":0.002},{"p":"b","s":"8rd","e":1370,"v":0.0018},{"p":"b","s":"8rd","e":1440,"v":0.0015},{"p":"b","s":"8rd","e":1500,"v":0.0012},{"p":"b","s":"8rd","e":1547,"v":0.0009},{"p":"b","s":"8rd","e":1590,"v":0.0006},{"p":"b","s":"8rd","e":1628,"v":0.00033},{"p":"b","s":"8rd","e":1660,"v":0.00025},{"p":"b","s":"8rd","e":1708,"v":0.00015},{"p":"b","s":"8rd","e":1730,"v":0.00005},{"p":"b","s":"8rd","e":1740,"v":0.00012},{"p":"b","s":"8rd","e":1770,"v":0.00008},{"p":"b","s":"8rd","e":1790,"v":0.00003},{"p":"b","s":"8rd","e":1800,"v":0.0001},{"p":"b","s":"8rd","e":1820,"v":0.00006},{"p":"b","s":"8rd","e":1844,"v":0.000055},{"p":"b","s":"8rd","e":1850,"v":0.0000092},{"p":"b","s":"8rd","e":1855,"v":0.000055},{"p":"b","s":"8rd","e":1880,"v":0.00004},{"p":"b","s":"8rd","e":1890,"v":0.0000092},{"p":"b","s":"8rd","e":1895,"v":0.00005},{"p":"b","s":"8rd","e":1920,"v":0.00005},{"p":"b","s":"8rd","e":1925,"v":0.0000092},{"p":"b","s":"8rd","e":2800,"v":0.0000092},
      {"p":"b","s":"9bk","e":0,"v":3},{"p":"b","s":"9bk","e":3,"v":0.01},{"p":"b","s":"9bk","e":8,"v":0.012},{"p":"b","s":"9bk","e":13,"v":0.02},{"p":"b","s":"9bk","e":25,"v":0.03},{"p":"b","s":"9bk","e":46,"v":0.04},{"p":"b","s":"9bk","e":70,"v":0.055},{"p":"b","s":"9bk","e":99,"v":0.077},{"p":"b","s":"9bk","e":125,"v":0.1},{"p":"b","s":"9bk","e":139,"v":0.11},{"p":"b","s":"9bk","e":160,"v":0.13},{"p":"b","s":"9bk","e":180,"v":0.148},{"p":"b","s":"9bk","e":230,"v":0.19},{"p":"b","s":"9bk","e":287,"v":0.24},{"p":"b","s":"9bk","e":310,"v":0.22},{"p":"b","s":"9bk","e":330,"v":0.28},{"p":"b","s":"9bk","e":350,"v":0.29},{"p":"b","s":"9bk","e":448,"v":0.34},{"p":"b","s":"9bk","e":480,"v":0.31},{"p":"b","s":"9bk","e":500,"v":0.38},{"p":"b","s":"9bk","e":530,"v":0.37},{"p":"b","s":"9bk","e":609,"v":0.4},{"p":"b","s":"9bk","e":640,"v":0.36},{"p":"b","s":"9bk","e":660,"v":0.42},{"p":"b","s":"9bk","e":690,"v":0.39},{"p":"b","s":"9bk","e":770,"v":0.37},{"p":"b","s":"9bk","e":800,"v":0.33},{"p":"b","s":"9bk","e":820,"v":0.38},{"p":"b","s":"9bk","e":850,"v":0.34},{"p":"b","s":"9bk","e":931,"v":0.31},{"p":"b","s":"9bk","e":960,"v":0.27},{"p":"b","s":"9bk","e":980,"v":0.32},{"p":"b","s":"9bk","e":1000,"v":0.28},{"p":"b","s":"9bk","e":1070,"v":0.24},{"p":"b","s":"9bk","e":1126,"v":0.22},{"p":"b","s":"9bk","e":1145,"v":0.2},{"p":"b","s":"9bk","e":1180,"v":0.15},{"p":"b","s":"9bk","e":1200,"v":0.19},{"p":"b","s":"9bk","e":1220,"v":0.15},{"p":"b","s":"9bk","e":1306,"v":0.1},{"p":"b","s":"9bk","e":1330,"v":0.075},{"p":"b","s":"9bk","e":1350,"v":0.09},{"p":"b","s":"9bk","e":1370,"v":0.07},{"p":"b","s":"9bk","e":1440,"v":0.047},{"p":"b","s":"9bk","e":1470,"v":0.032},{"p":"b","s":"9bk","e":1490,"v":0.04},{"p":"b","s":"9bk","e":1500,"v":0.03},{"p":"b","s":"9bk","e":1547,"v":0.02},{"p":"b","s":"9bk","e":1570,"v":0.014},{"p":"b","s":"9bk","e":1585,"v":0.02},{"p":"b","s":"9bk","e":1600,"v":0.015},{"p":"b","s":"9bk","e":1650,"v":0.012},{"p":"b","s":"9bk","e":1680,"v":0.008},{"p":"b","s":"9bk","e":1695,"v":0.011},{"p":"b","s":"9bk","e":1708,"v":0.009},{"p":"b","s":"9bk","e":1780,"v":0.0065},{"p":"b","s":"9bk","e":1820,"v":0.0048},{"p":"b","s":"9bk","e":1840,"v":0.0062},{"p":"b","s":"9bk","e":1869,"v":0.0046},{"p":"b","s":"9bk","e":1977,"v":0.0034},{"p":"b","s":"9bk","e":2084,"v":0.0026},{"p":"b","s":"9bk","e":2160,"v":0.0022},{"p":"b","s":"9bk","e":2245,"v":0.0019},{"p":"b","s":"9bk","e":2320,"v":0.0015},{"p":"b","s":"9bk","e":2400,"v":0.0012},{"p":"b","s":"9bk","e":2486,"v":0.0009},{"p":"b","s":"9bk","e":2500,"v":0.00064},{"p":"b","s":"9bk","e":2513,"v":0.00105},{"p":"b","s":"9bk","e":2560,"v":0.0008},{"p":"b","s":"9bk","e":2600,"v":0.0006},{"p":"b","s":"9bk","e":2647,"v":0.00047},{"p":"b","s":"9bk","e":2700,"v":0.0003},{"p":"b","s":"9bk","e":2754,"v":0.00015},{"p":"b","s":"9bk","e":2790,"v":0.00008},{"p":"b","s":"9bk","e":2835,"v":0.00004},{"p":"b","s":"9bk","e":2860,"v":0.00002},{"p":"b","s":"9bk","e":2875,"v":0.000015},{"p":"b","s":"9bk","e":2890,"v":0.0000092},{"p":"b","s":"9bk","e":3500,"v":0.0000092}
    ],
    "spikes": [
      {"p":"a","s":"1cy","e":146,"v":0.13,"v0":0.0000092},
      {"p":"a","s":"1cy","e":706,"v":0.00009,"v0":0.0000092},
      {"p":"a","s":"2ma","e":510,"v":0.000036,"v0":0.0000105},
      {"p":"a","s":"2ma","e":813,"v":0.0006,"v0":0.0000092},
      {"p":"a","s":"3lg","e":842,"v":0.115,"v0":0.0000092},
      {"p":"a","s":"4ye","e":352,"v":0.0032,"v0":0.0016},
      {"p":"a","s":"4ye","e":1120,"v":0.14,"v0":0.0000092},
      {"p":"a","s":"4ye","e":1352,"v":0.0022,"v0":0.0000092},
      {"p":"a","s":"5gr","e":511,"v":0.034,"v0":0.0005},
      {"p":"a","s":"5gr","e":1110,"v":0.0036,"v0":0.0013},
      {"p":"a","s":"6bl","e":1170,"v":0.0105,"v0":0.001},
      {"p":"a","s":"6bl","e":1332,"v":0.0105,"v0":0.001},
      {"p":"a","s":"8rd","e":583,"v":0.28,"v0":0.035},
      {"p":"b","s":"1cy","e":135,"v":0.09,"v0":0.0000092},
      {"p":"b","s":"1cy","e":705,"v":0.0002,"v0":0.0000092},
      {"p":"b","s":"2ma","e":510,"v":0.000018,"v0":0.000013},
      {"p":"b","s":"2ma","e":812,"v":0.0006,"v0":0.0000092},
      {"p":"b","s":"3lg","e":845,"v":0.115,"v0":0.0000092},
      {"p":"b","s":"4ye","e":1120,"v":0.125,"v0":0.0000092},
      {"p":"b","s":"4ye","e":1360,"v":0.003,"v0":0.0000092},
      {"p":"b","s":"5gr","e":515,"v":0.022,"v0":0.0022},
      {"p":"b","s":"5gr","e":1112,"v":0.015,"v0":0.006},
      {"p":"b","s":"6bl","e":1172,"v":0.0022,"v0":0.0008},
      {"p":"b","s":"8rd","e":583,"v":0.017,"v0":0.004},
      {"p":"b","s":"9bk","e":139,"v":0.5,"v0":0.1},
      {"p":"b","s":"9bk","e":1126,"v":0.55,"v0":0.2}
    ]
  },
  "spacing": 109,
  "bounds": "flush",
  "hconcat": [
    {
      "width": 435,
      "height": 280,
      "title": {"text": "Bg Composition Det ANG2 (12) Phase I (01/07/10 - 30/06/11)", "anchor": "start", "frame": "group", "dx": -35, "offset": -26, "baseline": "alphabetic", "font": "Liberation Sans", "fontSize": 12.5, "fontWeight": "bold", "color": "black"},
      "resolve": {"axis": {"x": "independent", "y": "independent"}},
      "layer": [
        {
          "data": {"values": [{}]},
          "mark": {"type": "rect", "filled": false, "color": "black", "strokeWidth": 1.2, "clip": false},
          "encoding": {
            "x": {"datum": -394, "type": "quantitative", "axis": null, "scale": {"domain": [0, 3500], "nice": false, "zero": false}},
            "x2": {"datum": 2671},
            "y": {"datum": 42.8, "type": "quantitative", "axis": null, "scale": {"type": "log", "domain": [0.0000086, 8.8], "nice": false}},
            "y2": {"datum": 15.93}
          }
        },
        {
          "data": {"name": "curves"},
          "transform": [{"filter": "datum.p == 'a'"}],
          "mark": {"type": "line", "clip": true},
          "encoding": {
            "x": {"field": "e", "type": "quantitative", "scale": {"domain": [0, 3500], "nice": false, "zero": false},
              "axis": {"orient": "bottom", "values": [0,500,1000,1500,2000,2500,3000,3500], "format": "d", "tickSize": -8, "tickWidth": 1, "labelPadding": 10.5, "labelFlush": false, "labelOverlap": false, "labelBaseline": "top", "title": "Energy [keV]", "titleAlign": "right", "titleX": 435, "titleY": 30, "titleBaseline": "alphabetic"}},
            "y": {"field": "v", "type": "quantitative", "scale": {"type": "log", "domain": [0.0000086, 8.8], "nice": false},
              "axis": {"orient": "left", "values": [0.00001,0.0001,0.001,0.01,0.1,1], "tickSize": -12, "tickWidth": 1, "labelPadding": 14, "labelOverlap": false, "labelFlush": false, "labelBaseline": "middle", "labelAlign": "right", "labelExpr": "datum.value > 0.5 ? '1' : datum.value > 0.05 ? '10⁻¹' : datum.value > 0.005 ? '10⁻²' : datum.value > 0.0005 ? '10⁻³' : datum.value > 0.00005 ? '10⁻⁴' : '10⁻⁵'", "title": "cts/kg/yr/keV", "titleAngle": -90, "titleX": -40.5, "titleY": 2, "titleAlign": "right", "titleBaseline": "middle"}},
            "color": {"field": "s", "type": "nominal", "legend": null, "scale": {"domain": ["1cy","2ma","3lg","4ye","5gr","6bl","7sl","8rd","9bk"], "range": ["#00ffff","#ff00ff","#66cc66","#ffff00","#00ff00","#0000ff","#5b5bdb","#ff0000","#000000"]}},
            "strokeWidth": {"field": "s", "type": "nominal", "legend": null, "scale": {"domain": ["1cy","2ma","3lg","4ye","5gr","6bl","7sl","8rd","9bk"], "range": [1.8,2,2,2,2,2,2.2,2.2,2.6]}}
          }
        },
        {
          "data": {"name": "spikes"},
          "transform": [{"filter": "datum.p == 'a'"}],
          "mark": {"type": "rule", "strokeWidth": 2, "clip": true},
          "encoding": {
            "x": {"field": "e", "type": "quantitative", "scale": {"domain": [0, 3500], "nice": false, "zero": false},
              "axis": {"orient": "bottom", "values": [100,200,300,400,600,700,800,900,1100,1200,1300,1400,1600,1700,1800,1900,2100,2200,2300,2400,2600,2700,2800,2900,3100,3200,3300,3400], "tickSize": -4, "tickWidth": 1, "labels": false, "domain": false, "title": "(a)\u00a0\u00a0\u00a0\u00a0ANG2", "titleFont": "Liberation Serif", "titleFontWeight": "normal", "titleFontSize": 22, "titleX": 214, "titleY": 66, "titleAlign": "center", "titleBaseline": "alphabetic"}},
            "y": {"field": "v", "type": "quantitative", "scale": {"type": "log", "domain": [0.0000086, 8.8], "nice": false},
              "axis": {"orient": "left", "values": [0.00002,0.00003,0.00004,0.00005,0.00006,0.00007,0.00008,0.00009,0.0002,0.0003,0.0004,0.0005,0.0006,0.0007,0.0008,0.0009,0.002,0.003,0.004,0.005,0.006,0.007,0.008,0.009,0.02,0.03,0.04,0.05,0.06,0.07,0.08,0.09,0.2,0.3,0.4,0.5,0.6,0.7,0.8,0.9,2,3,4,5,6,7,8], "tickSize": -6, "tickWidth": 1, "labels": false, "domain": false, "title": null}},
            "y2": {"field": "v0"},
            "color": {"field": "s", "type": "nominal", "legend": null, "scale": {"domain": ["1cy","2ma","3lg","4ye","5gr","6bl","7sl","8rd","9bk"], "range": ["#00ffff","#ff00ff","#66cc66","#ffff00","#00ff00","#0000ff","#5b5bdb","#ff0000","#000000"]}}
          }
        }
      ]
    },
    {
      "width": 435,
      "height": 280,
      "title": {"text": "Bg Composition Det GTF32 (2) Phase I (01/07/10 - 30/06/11)", "anchor": "start", "frame": "group", "dx": -34, "offset": -26, "baseline": "alphabetic", "font": "Liberation Sans", "fontSize": 12.5, "fontWeight": "bold", "color": "black"},
      "resolve": {"axis": {"x": "independent", "y": "independent"}},
      "layer": [
        {
          "data": {"values": [{}]},
          "mark": {"type": "rect", "filled": false, "color": "black", "strokeWidth": 1.2, "clip": false},
          "encoding": {
            "x": {"datum": -394, "type": "quantitative", "axis": null, "scale": {"domain": [0, 3500], "nice": false, "zero": false}},
            "x2": {"datum": 2671},
            "y": {"datum": 42.8, "type": "quantitative", "axis": null, "scale": {"type": "log", "domain": [0.0000086, 8.8], "nice": false}},
            "y2": {"datum": 15.93}
          }
        },
        {
          "data": {"name": "curves"},
          "transform": [{"filter": "datum.p == 'b'"}],
          "mark": {"type": "line", "clip": true},
          "encoding": {
            "x": {"field": "e", "type": "quantitative", "scale": {"domain": [0, 3500], "nice": false, "zero": false},
              "axis": {"orient": "bottom", "values": [0,500,1000,1500,2000,2500,3000,3500], "format": "d", "tickSize": -8, "tickWidth": 1, "labelPadding": 10.5, "labelFlush": false, "labelOverlap": false, "labelBaseline": "top", "title": "Energy [keV]", "titleAlign": "right", "titleX": 435, "titleY": 30, "titleBaseline": "alphabetic"}},
            "y": {"field": "v", "type": "quantitative", "scale": {"type": "log", "domain": [0.0000086, 8.8], "nice": false},
              "axis": {"orient": "left", "values": [0.00001,0.0001,0.001,0.01,0.1,1], "tickSize": -12, "tickWidth": 1, "labelPadding": 14, "labelOverlap": false, "labelFlush": false, "labelBaseline": "middle", "labelAlign": "right", "labelExpr": "datum.value > 0.5 ? '1' : datum.value > 0.05 ? '10⁻¹' : datum.value > 0.005 ? '10⁻²' : datum.value > 0.0005 ? '10⁻³' : datum.value > 0.00005 ? '10⁻⁴' : '10⁻⁵'", "title": "cts/kg/yr/keV", "titleAngle": -90, "titleX": -40.5, "titleY": 2, "titleAlign": "right", "titleBaseline": "middle"}},
            "color": {"field": "s", "type": "nominal", "legend": null, "scale": {"domain": ["1cy","2ma","3lg","4ye","5gr","6bl","7sl","8rd","9bk"], "range": ["#00ffff","#ff00ff","#66cc66","#ffff00","#00ff00","#0000ff","#5b5bdb","#ff0000","#000000"]}},
            "strokeWidth": {"field": "s", "type": "nominal", "legend": null, "scale": {"domain": ["1cy","2ma","3lg","4ye","5gr","6bl","7sl","8rd","9bk"], "range": [1.8,2,2,2,2,2,2.2,2.2,2.6]}}
          }
        },
        {
          "data": {"name": "spikes"},
          "transform": [{"filter": "datum.p == 'b'"}],
          "mark": {"type": "rule", "strokeWidth": 2, "clip": true},
          "encoding": {
            "x": {"field": "e", "type": "quantitative", "scale": {"domain": [0, 3500], "nice": false, "zero": false},
              "axis": {"orient": "bottom", "values": [100,200,300,400,600,700,800,900,1100,1200,1300,1400,1600,1700,1800,1900,2100,2200,2300,2400,2600,2700,2800,2900,3100,3200,3300,3400], "tickSize": -4, "tickWidth": 1, "labels": false, "domain": false, "title": "(b)\u00a0\u00a0\u00a0\u00a0GTF32", "titleFont": "Liberation Serif", "titleFontWeight": "normal", "titleFontSize": 22, "titleX": 219, "titleY": 66, "titleAlign": "center", "titleBaseline": "alphabetic"}},
            "y": {"field": "v", "type": "quantitative", "scale": {"type": "log", "domain": [0.0000086, 8.8], "nice": false},
              "axis": {"orient": "left", "values": [0.00002,0.00003,0.00004,0.00005,0.00006,0.00007,0.00008,0.00009,0.0002,0.0003,0.0004,0.0005,0.0006,0.0007,0.0008,0.0009,0.002,0.003,0.004,0.005,0.006,0.007,0.008,0.009,0.02,0.03,0.04,0.05,0.06,0.07,0.08,0.09,0.2,0.3,0.4,0.5,0.6,0.7,0.8,0.9,2,3,4,5,6,7,8], "tickSize": -6, "tickWidth": 1, "labels": false, "domain": false, "title": null}},
            "y2": {"field": "v0"},
            "color": {"field": "s", "type": "nominal", "legend": null, "scale": {"domain": ["1cy","2ma","3lg","4ye","5gr","6bl","7sl","8rd","9bk"], "range": ["#00ffff","#ff00ff","#66cc66","#ffff00","#00ff00","#0000ff","#5b5bdb","#ff0000","#000000"]}}
          }
        }
      ]
    }
  ]
}
